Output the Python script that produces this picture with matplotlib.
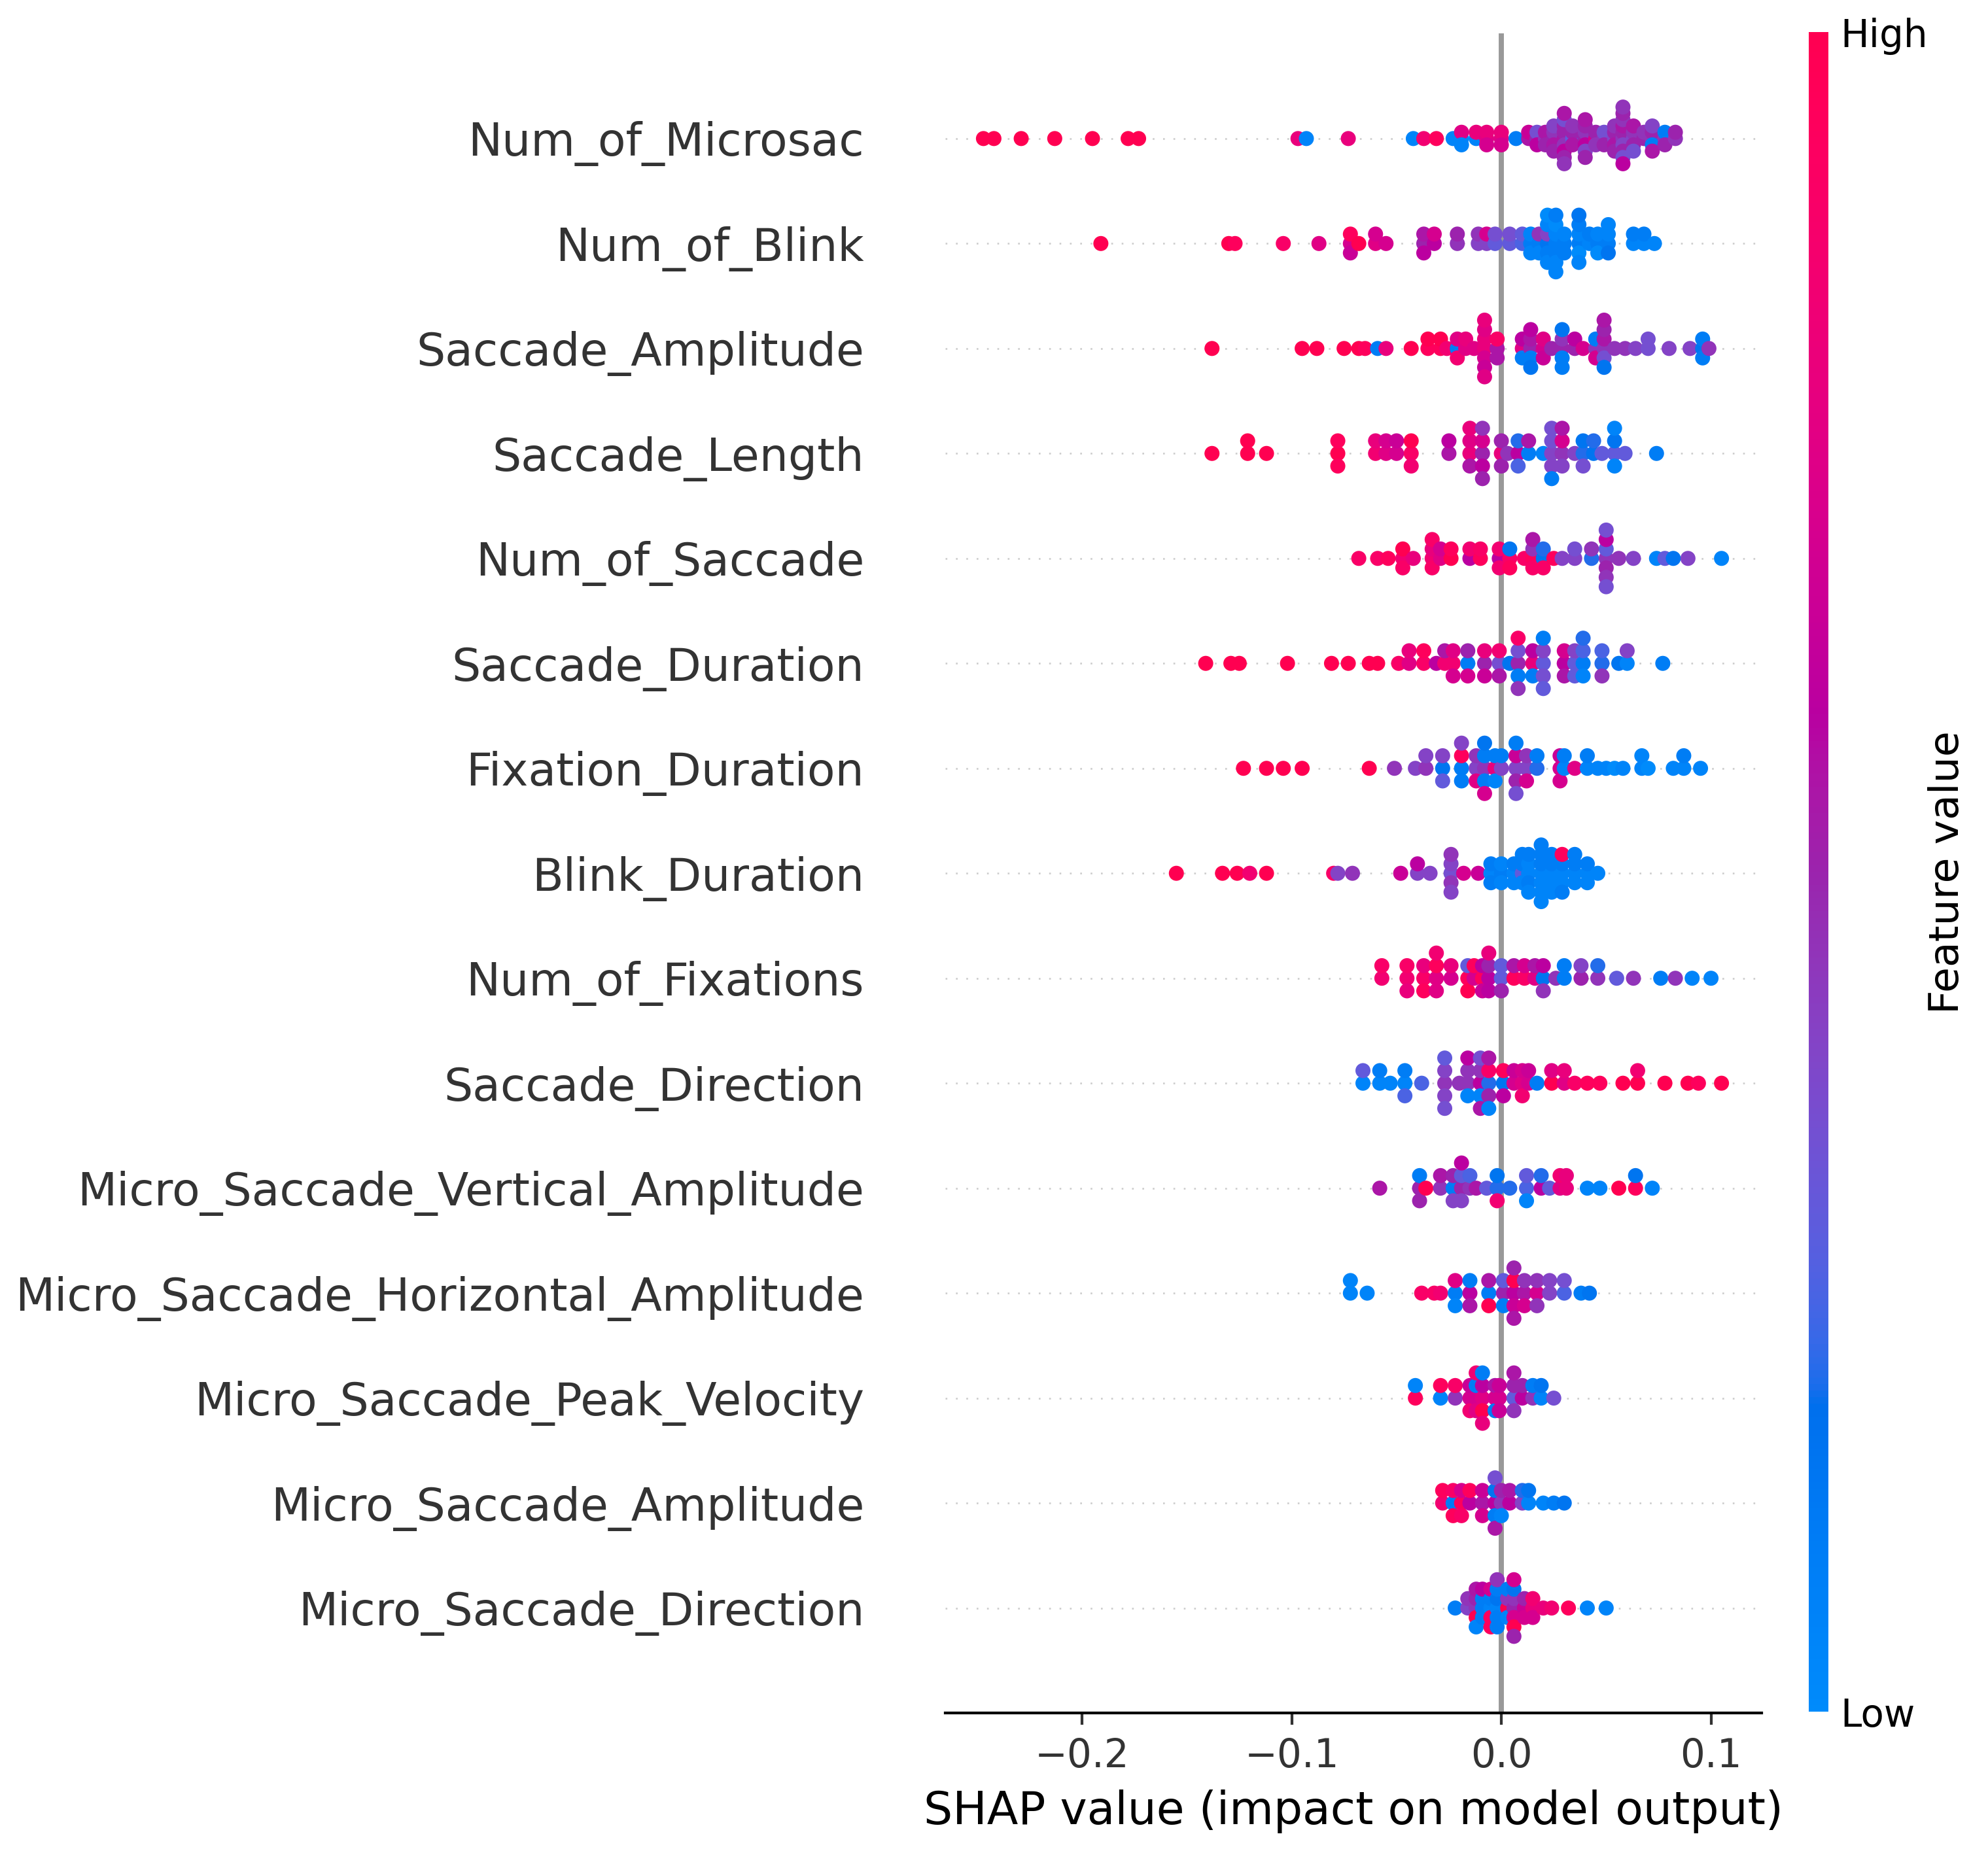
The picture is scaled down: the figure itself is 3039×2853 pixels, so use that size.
import numpy as np
import matplotlib
matplotlib.use("Agg")
import matplotlib.pyplot as plt
from matplotlib.colors import LinearSegmentedColormap

# feature names, top to bottom
features = [
    "Num_of_Microsac", "Num_of_Blink", "Saccade_Amplitude", "Saccade_Length",
    "Num_of_Saccade", "Saccade_Duration", "Fixation_Duration", "Blink_Duration",
    "Num_of_Fixations", "Saccade_Direction", "Micro_Saccade_Vertical_Amplitude",
    "Micro_Saccade_Horizontal_Amplitude", "Micro_Saccade_Peak_Velocity",
    "Micro_Saccade_Amplitude", "Micro_Saccade_Direction",
]

# (shap value, [normalised feature value of each sample at that shap value])
num_of_microsac = [
    (-0.247, [1.0]), (-0.242, [1.0]), (-0.229, [1.0]), (-0.213, [1.0]), (-0.195, [1.0]),
    (-0.178, [1.0]), (-0.173, [1.0]), (-0.097, [0.8]), (-0.093, [0.05]), (-0.073, [0.8]),
    (-0.042, [0.05]), (-0.037, [0.85]), (-0.031, [0.95]), (-0.023, [0.05]),
    (-0.019, [0.05, 0.75, 0.05]), (-0.012, [0.05, 0.8]), (-0.007, [0.75, 0.8, 0.7]),
    (0.000, [0.75, 0.8, 0.7]), (0.007, [0.1]), (0.013, [0.55, 0.65]), (0.017, [0.5, 0.35, 0.6]),
    (0.021, [0.45, 0.55, 0.5]), (0.025, [0.5, 0.45, 0.55, 0.4, 0.5]),
    (0.030, [0.55, 0.5, 0.45, 0.5, 0.6, 0.35, 0.5, 0.55, 0.45]),
    (0.034, [0.3, 0.5, 0.55, 0.45]), (0.040, [0.5, 0.45, 0.6, 0.5, 0.4, 0.55, 0.5]),
    (0.045, [0.7, 0.5, 0.45]), (0.049, [0.45, 0.35, 0.5]), (0.054, [0.4, 0.5, 0.55, 0.45, 0.5]),
    (0.058, [0.45, 0.5, 0.4, 0.55, 0.5, 0.45, 0.35, 0.5, 0.6, 0.45]),
    (0.063, [0.4, 0.45, 0.5, 0.55, 0.35]), (0.068, [0.5, 0.45]),
    (0.072, [0.45, 0.5, 0.1, 0.4, 0.55]), (0.078, [0.45, 0.1, 0.5]), (0.083, [0.45, 0.5]),
]
num_of_blink = [
    (-0.191, [1.0]), (-0.130, [1.0]), (-0.127, [0.95]), (-0.104, [0.9]), (-0.087, [0.75]),
    (-0.072, [0.7, 0.95, 0.65]), (-0.068, [1.0]), (-0.060, [0.75, 0.7]), (-0.055, [0.7]),
    (-0.037, [0.5, 0.55, 0.6]), (-0.032, [0.6, 0.7]), (-0.021, [0.45, 0.5]),
    (-0.011, [0.4, 0.45]), (-0.007, [0.4, 0.7]), (-0.003, [0.3, 0.35]), (0.004, [0.3, 0.35]),
    (0.010, [0.25, 0.3]), (0.014, [0.1, 0.05, 0.05]), (0.018, [0.1, 0.45, 0.05]),
    (0.022, [0.15, 0.4, 0.1, 0.05, 0.05, 0.0]), (0.026, [0.1, 0.05, 0.1, 0.0, 0.05, 0.1, 0.05]),
    (0.030, [0.1, 0.05, 0.1]), (0.037, [0.1, 0.05, 0.0, 0.1, 0.05, 0.15]), (0.042, [0.05, 0.1]),
    (0.046, [0.1, 0.05, 0.0]), (0.051, [0.1, 0.05, 0.15, 0.05]), (0.063, [0.05, 0.1]),
    (0.068, [0.05, 0.1]), (0.073, [0.05]),
]
saccade_amplitude = [
    (-0.138, [1.0]), (-0.095, [1.0]), (-0.088, [1.0]), (-0.075, [1.0]), (-0.068, [1.0]),
    (-0.065, [0.95]), (-0.059, [0.1]), (-0.055, [0.8]), (-0.043, [1.0]), (-0.035, [0.95, 1.0]),
    (-0.029, [0.95, 1.0]), (-0.026, [0.85]), (-0.021, [0.1, 0.75, 0.85]), (-0.017, [0.75, 0.8]),
    (-0.013, [0.75]), (-0.008, [0.8, 0.8, 0.7, 0.75, 0.65, 0.8, 0.75]), (-0.002, [0.55, 0.9, 0.55]),
    (0.010, [0.75, 0.6, 0.1]), (0.014, [0.5, 0.55, 0.1, 0.6, 0.15]), (0.020, [0.7, 0.75, 0.65]),
    (0.024, [0.5]), (0.029, [0.5, 0.45, 0.1, 0.15, 0.1]), (0.035, [0.5, 0.6]), (0.039, [0.7]),
    (0.045, [0.45, 0.1, 0.7]), (0.049, [0.45, 0.55, 0.35, 0.5, 0.15, 0.55]), (0.054, [0.45]),
    (0.059, [0.45]), (0.064, [0.4]), (0.070, [0.35, 0.35]), (0.080, [0.4]), (0.090, [0.4]),
    (0.096, [0.15, 0.1, 0.1]), (0.099, [0.45]),
]
saccade_length = [
    (-0.138, [1.0]), (-0.121, [1.0, 1.0]), (-0.112, [1.0]), (-0.078, [1.0, 0.95, 0.95]),
    (-0.060, [0.85, 0.8]), (-0.055, [0.75, 0.7]), (-0.050, [0.7, 0.65]), (-0.043, [0.9, 1.0, 0.85]),
    (-0.025, [0.55, 0.6]), (-0.015, [0.8, 0.75, 0.55, 0.8]), (-0.009, [0.5, 0.7, 0.6, 0.45, 0.5]),
    (0.000, [0.8, 0.5, 0.5]), (0.003, [0.45]), (0.008, [0.6, 0.2, 0.25]), (0.013, [0.1, 0.55]),
    (0.020, [0.05]), (0.024, [0.4, 0.35, 0.4, 0.35, 0.1]), (0.029, [0.45, 0.7, 0.4, 0.55]),
    (0.035, [0.4]), (0.039, [0.2, 0.15, 0.35]), (0.044, [0.15, 0.2]), (0.048, [0.3]),
    (0.054, [0.3, 0.15, 0.05, 0.05]), (0.059, [0.3]), (0.074, [0.1]),
]
num_of_saccade = [
    (-0.068, [0.9]), (-0.059, [0.9]), (-0.054, [0.95]), (-0.047, [0.85, 1.0, 0.9]), (-0.042, [0.8]),
    (-0.033, [0.85, 0.8, 0.9, 0.9]), (-0.029, [0.75, 0.7]), (-0.024, [1.0, 0.95]),
    (-0.015, [0.6, 0.85]), (-0.010, [0.95, 0.9]), (-0.001, [0.6, 0.85, 0.85]),
    (0.004, [0.9, 0.15, 0.95]), (0.011, [0.9]), (0.015, [0.95, 0.45, 0.9, 0.55]),
    (0.020, [0.15, 0.2, 0.9]), (0.025, [0.95]), (0.029, [0.4]), (0.035, [0.4, 0.35]),
    (0.043, [0.2, 0.45]), (0.050, [0.45, 0.3, 0.5, 0.6, 0.45, 0.35, 0.35]), (0.056, [0.45]),
    (0.063, [0.4]), (0.074, [0.05]), (0.078, [0.3]), (0.082, [0.15]), (0.089, [0.4]), (0.105, [0.05]),
]
saccade_duration = [
    (-0.141, [1.0]), (-0.129, [1.0]), (-0.125, [1.0]), (-0.102, [1.0]), (-0.081, [1.0]),
    (-0.073, [1.0]), (-0.063, [1.0]), (-0.059, [1.0]), (-0.049, [0.9]), (-0.044, [0.75, 0.8]),
    (-0.037, [0.9, 0.95]), (-0.031, [0.6]), (-0.027, [0.85, 0.55]), (-0.023, [0.85, 0.75, 0.7]),
    (-0.016, [0.1, 0.5, 0.7]), (-0.008, [0.5, 0.8, 0.65]), (-0.001, [0.35, 0.85, 0.55]),
    (0.004, [0.15]), (0.008, [0.5, 0.35, 0.1, 0.9, 0.45]), (0.015, [0.8, 0.6, 0.1]),
    (0.020, [0.3, 0.4, 0.35, 0.1, 0.3]), (0.030, [0.6, 0.7, 0.55]), (0.035, [0.3, 0.4, 0.3]),
    (0.039, [0.1, 0.25, 0.05, 0.2]), (0.048, [0.2, 0.25, 0.45]), (0.056, [0.15]),
    (0.060, [0.05, 0.4]), (0.077, [0.1]),
]
fixation_duration = [
    (-0.123, [1.0]), (-0.112, [1.0]), (-0.104, [1.0]), (-0.095, [1.0]), (-0.063, [1.0]),
    (-0.051, [0.45]), (-0.041, [0.4]), (-0.036, [0.45, 0.4]), (-0.028, [0.15, 0.4, 0.3]),
    (-0.019, [0.1, 0.95, 0.1, 0.4]), (-0.012, [0.4, 0.45, 0.75]), (-0.008, [0.45, 0.1, 0.1, 0.15, 0.7]),
    (-0.003, [0.8, 0.1, 0.05]), (0.000, [0.4, 0.1]), (0.007, [0.4, 0.65, 0.5, 0.1, 0.35]),
    (0.012, [0.4, 0.45, 0.7]), (0.017, [0.2, 0.1]), (0.028, [0.7, 0.65, 0.7]), (0.030, [0.05, 0.1]),
    (0.035, [0.75]), (0.041, [0.05, 0.1]), (0.046, [0.05]), (0.050, [0.05]), (0.054, [0.0]),
    (0.058, [0.05]), (0.067, [0.05, 0.05]), (0.070, [0.0]), (0.082, [0.05]), (0.087, [0.05, 0.1]),
    (0.095, [0.05]),
]
blink_duration = [
    (-0.155, [1.0]), (-0.133, [1.0]), (-0.126, [1.0]), (-0.120, [0.85]), (-0.112, [1.0]),
    (-0.080, [0.9]), (-0.078, [0.4]), (-0.071, [0.45]), (-0.048, [0.65]), (-0.040, [0.4, 0.6]),
    (-0.034, [0.4]), (-0.024, [0.35, 0.4, 0.45, 0.45, 0.4]), (-0.018, [0.7]), (-0.011, [0.65]),
    (-0.005, [0.05, 0.1, 0.1]), (0.000, [0.1, 0.05, 0.05]), (0.006, [0.05, 0.1, 0.05]),
    (0.010, [0.3, 0.1, 0.05, 0.1]), (0.013, [0.05, 0.05, 0.1, 0.1, 0.05]),
    (0.019, [0.05, 0.1, 0.05, 0.1, 0.05, 0.1, 0.05]), (0.024, [0.05, 0.1, 0.05, 0.1, 0.05]),
    (0.029, [0.05, 0.1, 0.05, 0.95, 0.1]), (0.035, [0.05, 0.1, 0.05, 0.1]),
    (0.041, [0.05, 0.1, 0.05]), (0.046, [0.05]),
]
num_of_fixations = [
    (-0.057, [0.85, 0.9]), (-0.045, [0.85, 0.9, 0.8]), (-0.037, [0.9, 0.8, 0.95]),
    (-0.031, [0.75, 0.95, 0.75, 0.85]), (-0.024, [0.7, 0.8]), (-0.016, [0.95, 0.3, 1.0]),
    (-0.013, [0.7, 0.95]), (-0.009, [0.95, 0.6, 0.65]), (-0.006, [0.6, 0.5, 0.6, 0.8]),
    (0.000, [0.3, 0.3, 0.5]), (0.006, [0.95, 0.55]), (0.011, [0.9, 0.7]), (0.016, [0.75, 0.55]),
    (0.020, [0.15, 0.6, 0.45]), (0.026, [0.45]), (0.030, [0.1, 0.1]), (0.038, [0.5, 0.4]),
    (0.046, [0.45, 0.2]), (0.055, [0.3]), (0.063, [0.45]), (0.076, [0.1]), (0.083, [0.45]),
    (0.091, [0.05]), (0.100, [0.05]),
]
saccade_direction = [
    (-0.066, [0.05, 0.3]), (-0.058, [0.05, 0.1]), (-0.053, [0.05]), (-0.046, [0.05, 0.1, 0.25]),
    (-0.038, [0.25]), (-0.027, [0.45, 0.4, 0.4, 0.3, 0.35]), (-0.020, [0.45]),
    (-0.016, [0.45, 0.45, 0.05, 0.6]), (-0.010, [0.6, 0.45, 0.05, 0.35, 0.55]),
    (-0.006, [0.2, 0.9, 0.5, 0.55, 0.05]), (0.001, [0.15, 0.95, 0.6]), (0.006, [0.7, 0.65]),
    (0.010, [0.75, 0.7, 0.85]), (0.013, [0.7, 0.65]), (0.017, [0.1]), (0.024, [1.0, 0.75]),
    (0.030, [0.75, 0.8]), (0.035, [0.9]), (0.041, [0.95]), (0.047, [0.95]), (0.058, [1.0]),
    (0.065, [1.0, 0.85]), (0.078, [1.0]), (0.089, [1.0]), (0.094, [0.95]), (0.105, [1.0]),
]
micro_saccade_vertical_amplitude = [
    (-0.058, [0.55]), (-0.039, [0.5, 0.1, 0.5]), (-0.036, [1.0]), (-0.029, [0.45, 0.55]),
    (-0.023, [0.1, 0.5, 0.4]), (-0.019, [0.5, 0.3, 0.4, 0.6]), (-0.015, [0.45, 0.25]),
    (-0.012, [0.55]), (-0.007, [0.3]), (-0.002, [0.2, 0.15, 0.85]), (0.004, [0.2]),
    (0.012, [0.25, 0.3, 0.05]), (0.019, [0.6, 0.2]), (0.023, [0.3]), (0.028, [0.75, 0.85]),
    (0.031, [0.8, 0.8]), (0.041, [0.05]), (0.047, [0.05]), (0.056, [1.0]), (0.064, [0.95, 0.15]),
    (0.072, [0.05]),
]
micro_saccade_horizontal_amplitude = [
    (-0.072, [0.05, 0.05]), (-0.064, [0.05]), (-0.038, [0.9]), (-0.032, [0.9]), (-0.029, [0.85]),
    (-0.022, [0.1, 0.75, 0.05]), (-0.015, [0.6, 0.1, 0.55]), (-0.006, [0.1, 0.55, 1.0]),
    (0.001, [0.5, 0.3, 0.1]), (0.006, [0.6, 1.0, 0.65, 0.5, 0.55]), (0.011, [0.55, 0.45, 0.7]),
    (0.017, [0.7, 0.45, 0.45]), (0.023, [0.4, 0.4]), (0.030, [0.25, 0.35]), (0.038, [0.1]),
    (0.042, [0.15]),
]
micro_saccade_peak_velocity = [
    (-0.041, [0.95, 0.05]), (-0.029, [0.05, 0.95]), (-0.022, [0.45, 0.9]),
    (-0.015, [0.7, 0.65, 0.85]), (-0.012, [0.7, 0.1, 0.75, 0.85]), (-0.009, [0.75, 0.6, 1.0, 0.1, 0.8]),
    (-0.003, [0.7, 0.55, 0.1]), (-0.001, [0.7, 0.65, 0.65]), (0.006, [0.3, 0.5, 0.45, 0.55]),
    (0.010, [0.6, 0.5]), (0.015, [0.45, 0.1]), (0.019, [0.05, 0.15]), (0.025, [0.35]),
]
micro_saccade_amplitude = [
    (-0.028, [0.85, 0.95]), (-0.023, [0.1, 0.9, 0.95]), (-0.019, [0.95, 0.7, 0.9]),
    (-0.015, [0.6, 0.95]), (-0.009, [0.55, 0.65, 0.7]), (-0.003, [0.6, 0.15, 0.1, 0.35, 0.55]),
    (0.000, [0.45, 0.5, 0.05]), (0.004, [0.6, 0.55]), (0.010, [0.4, 0.2]), (0.013, [0.05, 0.15]),
    (0.020, [0.05]), (0.025, [0.1]), (0.030, [0.15]),
]
micro_saccade_direction = [
    (-0.022, [0.1]), (-0.016, [0.4, 0.45]), (-0.012, [0.45, 0.5, 1.0, 0.55, 0.05]),
    (-0.009, [0.1, 0.1, 0.1, 0.6]), (-0.005, [0.05, 0.1, 0.95, 0.7, 0.95]),
    (-0.002, [0.05, 0.15, 0.1, 0.1, 0.1, 0.45]), (0.003, [1.0, 0.45, 0.05, 0.1]),
    (0.006, [0.5, 0.45, 0.7, 0.15, 1.0, 0.7, 0.5]), (0.011, [0.65, 0.5, 0.7]),
    (0.015, [0.8, 0.85, 0.7]), (0.020, [0.8]), (0.024, [0.85]), (0.032, [0.95]),
    (0.041, [0.05]), (0.050, [0.05]),
]

rows = [
    num_of_microsac, num_of_blink, saccade_amplitude, saccade_length, num_of_saccade,
    saccade_duration, fixation_duration, blink_duration, num_of_fixations, saccade_direction,
    micro_saccade_vertical_amplitude, micro_saccade_horizontal_amplitude,
    micro_saccade_peak_velocity, micro_saccade_amplitude, micro_saccade_direction,
]


# shap style red/blue map, interpolated in LCh space
def lch_to_rgb(l, c, h):
    a = c * np.cos(h)
    b = c * np.sin(h)
    fy = (l + 16) / 116.0
    fx = fy + a / 500.0
    fz = fy - b / 200.0

    def finv(t):
        return np.where(t > 6 / 29, t ** 3, 3 * (6 / 29) ** 2 * (t - 4 / 29))

    xyz = np.array([0.95047 * finv(fx), finv(fy), 1.08883 * finv(fz)])
    m = np.array([[3.2406, -1.5372, -0.4986],
                  [-0.9689, 1.8758, 0.0415],
                  [0.0557, -0.2040, 1.0570]])
    rgb = m @ xyz
    rgb = np.where(rgb > 0.0031308, 1.055 * np.abs(rgb) ** (1 / 2.4) - 0.055, 12.92 * rgb)
    return np.clip(rgb, 0, 1)


nsteps = 100
l_vals = list(np.linspace(54., 40., nsteps // 2)) + list(np.linspace(40., 54., nsteps // 2))
c_vals = np.linspace(70., 90., nsteps)
h_vals = np.linspace(4.6588, 0.35470565 + 2 * np.pi, nsteps)
cols = [lch_to_rgb(l, c, h) for l, c, h in zip(l_vals, c_vals, h_vals)]
cmap = LinearSegmentedColormap.from_list("red_blue", cols)

fig = plt.figure(figsize=(3039 / 380, 2853 / 380), dpi=380)
ax = fig.add_axes([0.4755, 0.0820, 0.4107, 0.900])

n = len(features)
ax.axvline(x=0, color="#999999", zorder=-1)
for i, clusters in enumerate(rows):
    pos = n - 1 - i
    shaps = np.array([v for v, cs in clusters for c in cs])
    vals = np.array([c for v, cs in clusters for c in cs])
    ax.axhline(y=pos, color="#cccccc", lw=0.5, dashes=(1, 5), zorder=-1)

    # beeswarm jitter as in shap
    quant = np.round(100 * (shaps - shaps.min()) / (shaps.max() - shaps.min() + 1e-8))
    inds = np.argsort(quant, kind="stable")
    layer = 0
    last_bin = -1
    ys = np.zeros(len(shaps))
    for ind in inds:
        if quant[ind] != last_bin:
            layer = 0
        ys[ind] = np.ceil(layer / 2) * ((layer % 2) * 2 - 1)
        layer += 1
        last_bin = quant[ind]
    ys *= 0.9 * (0.4 / np.max(ys + 1))

    ax.scatter(shaps, pos + ys, c=vals, cmap=cmap, vmin=0, vmax=1, s=19,
               linewidth=0, zorder=3)

ax.xaxis.set_ticks_position("bottom")
ax.yaxis.set_ticks_position("none")
ax.spines["right"].set_visible(False)
ax.spines["top"].set_visible(False)
ax.spines["left"].set_visible(False)
ax.tick_params(color="#333333", labelcolor="#333333")
ax.set_yticks(range(n))
ax.set_yticklabels(features[::-1], fontsize=13.2)
ax.tick_params("y", length=20, width=0.5, which="major")
ax.tick_params("x", labelsize=11.3)
ax.set_xticks([-0.2, -0.1, 0.0, 0.1])
ax.set_ylim(-1, n)
ax.set_xlim(-0.2652, 0.1242)
ax.set_xlabel("SHAP value (impact on model output)", fontsize=13.2)

cax = fig.add_axes([0.9098, 0.0827, 0.0099, 0.900])
sm = plt.cm.ScalarMappable(cmap=cmap)
sm.set_array([0, 1])
cb = fig.colorbar(sm, cax=cax, ticks=[0, 1])
cb.set_ticklabels(["Low", "High"])
cb.set_label("Feature value", size=12, labelpad=0)
cb.ax.tick_params(labelsize=11, length=0)
cb.outline.set_visible(False)

fig.savefig("out.png", dpi=380)
